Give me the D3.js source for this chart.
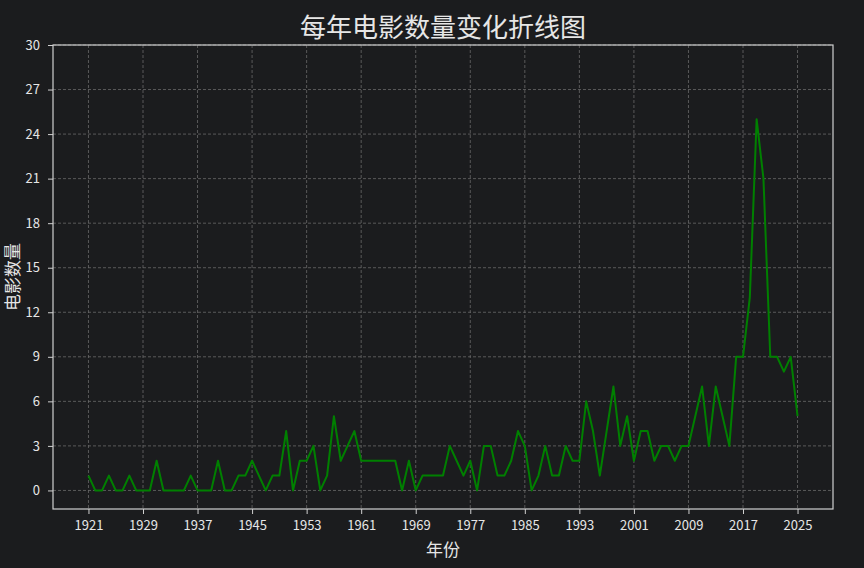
<!DOCTYPE html>
<html>
<head>
<meta charset="utf-8">
<script src="https://cdn.jsdelivr.net/npm/d3@7"></script>
<style>
  html, body { margin: 0; padding: 0; background: #1b1c1e; }
  svg { display: block; }
</style>
</head>
<body>
<script>
const years = d3.range(1921, 2026);
const counts = [
  1, 0, 0, 1, 0, 0, 1, 0, 0, 0,
  2, 0, 0, 0, 0, 1, 0, 0, 0, 2,
  0, 0, 1, 1, 2, 1, 0, 1, 1, 4,
  0, 2, 2, 3, 0, 1, 5, 2, 3, 4,
  2, 2, 2, 2, 2, 2, 0, 2, 0, 1,
  1, 1, 1, 3, 2, 1, 2, 0, 3, 3,
  1, 1, 2, 4, 3, 0, 1, 3, 1, 1,
  3, 2, 2, 6, 4, 1, 4, 7, 3, 5,
  2, 4, 4, 2, 3, 3, 2, 3, 3, 5,
  7, 3, 7, 5, 3, 9, 9, 13, 25, 21,
  9, 9, 8, 9, 5
];
const xTicks = [1921, 1929, 1937, 1945, 1953, 1961, 1969, 1977, 1985, 1993, 2001, 2009, 2017, 2025];
const yTicks = [0, 3, 6, 9, 12, 15, 18, 21, 24, 27, 30];
const titleText = "每年电影数量变化折线图";
const xLabel = "年份";
const yLabel = "电影数量";

(function () {
const W = 864, H = 568;
const mLeft = 53, mRight = 833, mTop = 45, mBottom = 509;
const font = "'Noto Sans CJK SC', 'DejaVu Sans', sans-serif";
const fg = "#e6e6e6";

const svg = d3.select("body").append("svg").attr("width", W).attr("height", H)
  .style("background", "#1b1c1e");

const data = years.map((yr, i) => ({ year: yr, v: counts[i] }));

const x = d3.scaleLinear().domain([1921 - 5.2, 2025 + 5.2]).range([mLeft, mRight]);
const y = d3.scaleLinear().domain([-1.25, 30]).range([mBottom, mTop]);

// grid
const g = svg.append("g");
g.selectAll("line.vg").data(xTicks).join("line")
  .attr("x1", d => x(d)).attr("x2", d => x(d))
  .attr("y1", mTop).attr("y2", mBottom)
  .attr("stroke", "#6a6a6a").attr("stroke-width", 0.8)
  .attr("stroke-dasharray", "3,2");
g.selectAll("line.hg").data(yTicks).join("line")
  .attr("x1", mLeft).attr("x2", mRight)
  .attr("y1", d => y(d)).attr("y2", d => y(d))
  .attr("stroke", "#6a6a6a").attr("stroke-width", 0.8)
  .attr("stroke-dasharray", "3,2");

// line
const line = d3.line().x(d => x(d.year)).y(d => y(d.v));
svg.append("path").datum(data)
  .attr("d", line).attr("fill", "none")
  .attr("stroke", "#008000").attr("stroke-width", 2)
  .attr("stroke-linejoin", "round");

// axes
const xAxis = svg.append("g").attr("transform", `translate(0,${mBottom})`)
  .call(d3.axisBottom(x).tickValues(xTicks).tickFormat(d3.format("d")).tickSize(5).tickPadding(7));
const yAxis = svg.append("g").attr("transform", `translate(${mLeft},0)`)
  .call(d3.axisLeft(y).tickValues(yTicks).tickFormat(d3.format("d")).tickSize(5).tickPadding(8));
[xAxis, yAxis].forEach(a => {
  a.select(".domain").remove();
  a.selectAll(".tick line").attr("stroke", "#d0d0d0").attr("stroke-width", 1);
  a.selectAll(".tick text").attr("fill", fg).style("font-family", font).style("font-size", "13px");
});

// frame
svg.append("rect").attr("x", mLeft).attr("y", mTop)
  .attr("width", mRight - mLeft).attr("height", mBottom - mTop)
  .attr("fill", "none").attr("stroke", "#d0d0d0").attr("stroke-width", 1.2);

// texts
svg.append("text").attr("x", (mLeft + mRight) / 2).attr("y", 37)
  .attr("text-anchor", "middle").attr("fill", fg)
  .style("font-family", font).style("font-size", "26px").text(titleText);
svg.append("text").attr("x", (mLeft + mRight) / 2).attr("y", 556)
  .attr("text-anchor", "middle").attr("fill", fg)
  .style("font-family", font).style("font-size", "17px").text(xLabel);
svg.append("text").attr("transform", `translate(19,${(mTop + mBottom) / 2}) rotate(-90)`)
  .attr("text-anchor", "middle").attr("fill", fg)
  .style("font-family", font).style("font-size", "17px").text(yLabel);
})();
</script>
</body>
</html>
